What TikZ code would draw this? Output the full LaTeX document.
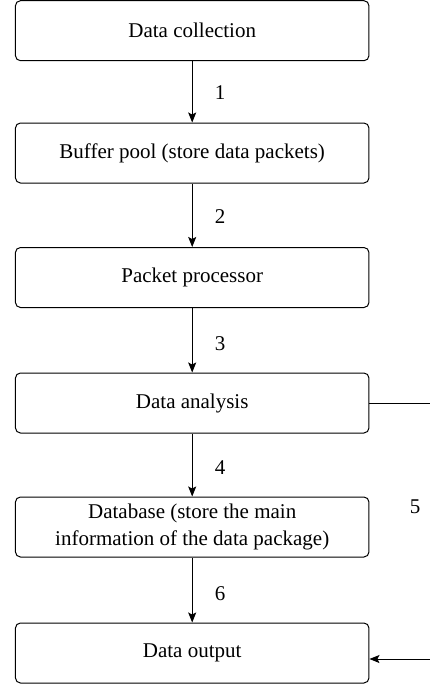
\documentclass[tikz,border=0pt]{standalone}
\usepackage{fontspec}
\setmainfont{Liberation Serif}
\usetikzlibrary{arrows.meta,positioning}
\begin{document}
\begin{tikzpicture}[x=1pt,y=-1pt,
  box/.style={draw,line width=1pt,rounded corners=5pt,minimum width=353.5pt,minimum height=60pt,inner sep=0pt,align=center,font=\fontsize{21}{27}\selectfont},
  conn/.style={line width=1pt,-{Stealth[length=10pt,width=8pt,inset=2pt]}},
  lbl/.style={font=\fontsize{21}{25}\selectfont,inner sep=0pt}]
\useasboundingbox (0,0) rectangle (430,689);
\clip (0,0) rectangle (430,689);
\node[box] (dc) at (192.2,30.7) {Data collection};
\node[box] (bp) at (192.2,153) {Buffer pool (store data packets)};
\node[box] (pp) at (192.2,277.5) {Packet processor};
\node[box] (da) at (192.2,403) {Data analysis};
\node[box] (db) at (192.2,527) {Database (store the main\\information of the data package)};
\node[box] (out) at (192.2,653) {Data output};
\draw[conn] (dc) -- node[lbl,pos=0.5,xshift=28pt,yshift=-1pt] (l1) {1} (bp);
\draw[conn] (bp) -- node[lbl,pos=0.5,xshift=28pt,yshift=-1.5pt] (l2) {2} (pp);
\draw[conn] (pp) -- node[lbl,pos=0.5,xshift=28pt,yshift=-3pt] (l3) {3} (da);
\draw[conn] (da) -- node[lbl,pos=0.5,xshift=28pt,yshift=-3pt] (l4) {4} (db);
\draw[conn] (db) -- node[lbl,pos=0.5,xshift=28pt,yshift=-4pt] (l6) {6} (out);
\coordinate (rt) at (434,403);
\draw[conn] (da.east) -- (rt) |- ([yshift=-6pt]out.east);
\node[lbl] (l5) at (415,507) {5};
\end{tikzpicture}
\end{document}
